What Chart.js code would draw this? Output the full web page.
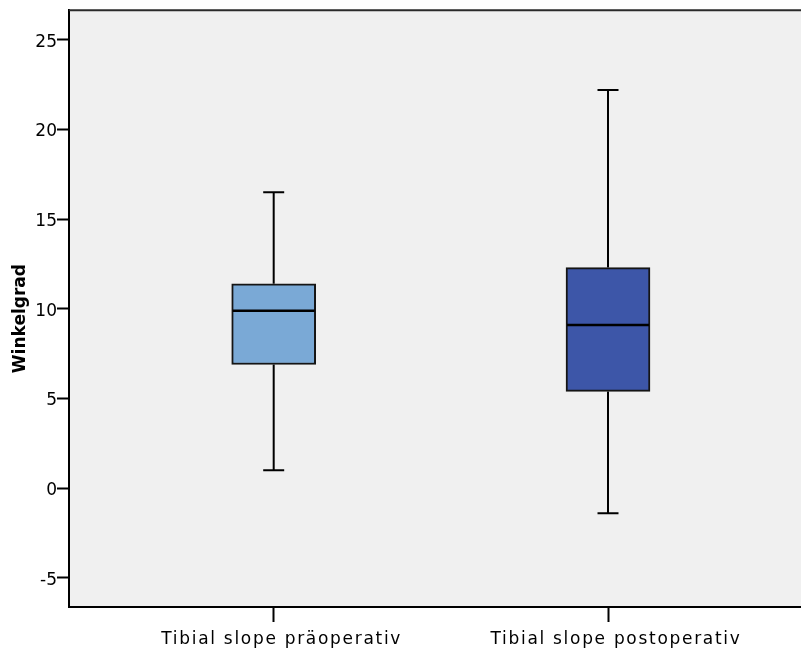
<!DOCTYPE html>
<html>
<head>
<meta charset="utf-8">
<title>Tibial slope</title>
<script src="https://cdn.jsdelivr.net/npm/chart.js@4/dist/chart.umd.min.js"></script>
<style>
  html, body { margin: 0; padding: 0; background: #ffffff; }
  #wrap { width: 801px; height: 652px; }
</style>
</head>
<body>
<div id="wrap"><canvas id="chart" width="801" height="652"></canvas></div>
<script>
// Box plot statistics (degrees)
const categories  = ['Tibial slope präoperativ', 'Tibial slope postoperativ'];
const whiskerLow  = [1.0, -1.4];
const quartile1   = [6.9, 5.4];
const median      = [9.9, 9.1];
const quartile3   = [11.4, 12.3];
const whiskerHigh = [16.5, 22.2];
const yTicks      = [-5, 0, 5, 10, 15, 20, 25];

const boxFill = ['#7aa9d6', '#3d56a8'];
const FONT = "'DejaVu Sans', 'Liberation Sans', Arial, sans-serif";

// Floating bars span Q1..Q3; whiskers, caps and medians are added by the plugin below
const boxData = categories.map((c, i) => ({ x: i, y: [quartile1[i], quartile3[i]] }));

const plotBackground = {
  id: 'plotBackground',
  beforeDraw(chart) {
    const { ctx, chartArea: a } = chart;
    ctx.save();
    ctx.fillStyle = '#f0f0f0';
    ctx.fillRect(a.left, a.top, a.right - a.left, a.bottom - a.top);
    ctx.restore();

    // wider glyph spacing for the category labels, shifted axis title
    const xs = chart.scales.x, ys = chart.scales.y;
    if (!xs._spaced) {
      const drawLabels = xs.drawLabels.bind(xs);
      xs.drawLabels = function (area) {
        this.ctx.save();
        this.ctx.letterSpacing = '1.7px';
        drawLabels(area);
        this.ctx.restore();
      };
      xs._spaced = true;
    }
    if (!ys._shifted) {
      const drawTitle = ys.drawTitle.bind(ys);
      ys.drawTitle = function () {
        this.ctx.save();
        this.ctx.translate(0, 10);
        drawTitle();
        this.ctx.restore();
      };
      ys._shifted = true;
    }
  },
  afterDraw(chart) {
    const { ctx, chartArea: a } = chart;
    ctx.save();
    ctx.strokeStyle = '#2a2a2a';
    ctx.lineWidth = 2;
    ctx.beginPath();
    ctx.moveTo(a.left, a.top);
    ctx.lineTo(a.right, a.top);
    ctx.stroke();
    ctx.restore();
  }
};

const boxWhiskers = {
  id: 'boxWhiskers',
  beforeDatasetsDraw(chart) {
    const { ctx } = chart;
    const y = chart.scales.y;
    const meta = chart.getDatasetMeta(0);
    ctx.save();
    ctx.strokeStyle = '#000';
    ctx.lineWidth = 2;
    meta.data.forEach((bar, i) => {
      const cx = bar.x;
      const capHalf = 10.5;
      const yHi = y.getPixelForValue(whiskerHigh[i]);
      const yLo = y.getPixelForValue(whiskerLow[i]);
      const yQ3 = y.getPixelForValue(quartile3[i]);
      const yQ1 = y.getPixelForValue(quartile1[i]);
      ctx.beginPath();
      ctx.moveTo(cx, yQ3); ctx.lineTo(cx, yHi);
      ctx.moveTo(cx, yQ1); ctx.lineTo(cx, yLo);
      ctx.moveTo(cx - capHalf, yHi); ctx.lineTo(cx + capHalf, yHi);
      ctx.moveTo(cx - capHalf, yLo); ctx.lineTo(cx + capHalf, yLo);
      ctx.stroke();
    });
    ctx.restore();
  },
  afterDatasetsDraw(chart) {
    const { ctx } = chart;
    const y = chart.scales.y;
    const meta = chart.getDatasetMeta(0);
    ctx.save();
    ctx.strokeStyle = '#000';
    ctx.lineWidth = 2.5;
    meta.data.forEach((bar, i) => {
      const half = bar.width / 2;
      const ym = y.getPixelForValue(median[i]);
      ctx.beginPath();
      ctx.moveTo(bar.x - half + 1, ym);
      ctx.lineTo(bar.x + half - 1, ym);
      ctx.stroke();
    });
    ctx.restore();
  }
};

new Chart(document.getElementById('chart'), {
  type: 'bar',
  data: {
    datasets: [{
      data: boxData,
      backgroundColor: boxFill,
      borderColor: '#151515',
      borderWidth: 2,
      borderSkipped: false,
      barThickness: 84
    }]
  },
  options: {
    responsive: false,
    animation: false,
    layout: { padding: { top: 9, right: 0, bottom: 0, left: 0 } },
    plugins: {
      legend: { display: false },
      tooltip: { enabled: false }
    },
    scales: {
      x: {
        type: 'linear',
        min: -0.6123,
        max: 1.5773,
        offset: false,
        afterFit(scale) { scale.height = 45; },
        afterBuildTicks(scale) { scale.ticks = categories.map((c, i) => ({ value: i })); },
        grid: {
          offset: false,
          drawOnChartArea: false,
          drawTicks: true,
          tickLength: 15,
          tickWidth: 2,
          tickColor: '#000'
        },
        border: { display: true, color: '#000', width: 2 },
        ticks: {
          autoSkip: false,
          maxRotation: 0,
          padding: 7,
          labelOffset: 8,
          color: '#000',
          font: { family: FONT, size: 17 },
          callback: (v) => categories[v] ?? ''
        }
      },
      y: {
        type: 'linear',
        min: -6.62,
        max: 26.65,
        afterFit(scale) { scale.width = 69; },
        afterBuildTicks(scale) { scale.ticks = yTicks.map(v => ({ value: v })); },
        grid: {
          drawOnChartArea: false,
          drawTicks: true,
          tickLength: 12,
          tickWidth: 2,
          tickColor: '#000'
        },
        border: { display: true, color: '#000', width: 2 },
        ticks: {
          padding: 0,
          labelOffset: 2.5,
          color: '#000',
          font: { family: FONT, size: 17 },
          callback: (v) => String(v)
        },
        title: {
          display: true,
          text: 'Winkelgrad',
          color: '#000',
          padding: { top: 10, bottom: 0 },
          font: { family: FONT, size: 17, weight: 'bold' }
        }
      }
    }
  },
  plugins: [plotBackground, boxWhiskers]
});
</script>
</body>
</html>
